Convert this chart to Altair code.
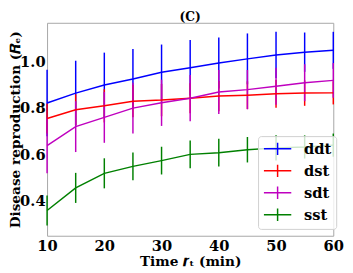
import altair as alt
import pandas as pd

times = [10, 15, 20, 25, 30, 35, 40, 45, 50, 55, 60]
series = ["ddt", "dst", "sdt", "sst"]
colors = ["#0000ff", "#ff0000", "#bf00bf", "#008000"]

ddt = [0.822, 0.865, 0.900, 0.926, 0.955, 0.975, 0.995, 1.013, 1.030, 1.042, 1.050]
ddt_err = [0.144, 0.14, 0.14, 0.13, 0.12, 0.12, 0.11, 0.11, 0.10, 0.085, 0.08]
dst = [0.755, 0.793, 0.810, 0.830, 0.835, 0.843, 0.852, 0.856, 0.862, 0.865, 0.866]
dst_err = [0.065, 0.067, 0.072, 0.07, 0.07, 0.065, 0.065, 0.06, 0.06, 0.055, 0.05]
sdt = [0.638, 0.720, 0.760, 0.800, 0.823, 0.843, 0.870, 0.880, 0.895, 0.910, 0.920]
sdt_err = [0.12, 0.11, 0.11, 0.11, 0.10, 0.10, 0.095, 0.085, 0.08, 0.08, 0.075]
sst = [0.357, 0.455, 0.518, 0.548, 0.573, 0.600, 0.607, 0.620, 0.628, 0.632, 0.640]
sst_err = [0.065, 0.065, 0.065, 0.06, 0.06, 0.06, 0.06, 0.055, 0.055, 0.05, 0.05]

x_ticks = [10, 20, 30, 40, 50, 60]
y_ticks = [0.4, 0.6, 0.8, 1.0]

rows = []
for name, vals, errs in zip(series, [ddt, dst, sdt, sst], [ddt_err, dst_err, sdt_err, sst_err]):
    for t, v, e in zip(times, vals, errs):
        rows.append({"t": t, "series": name, "y": v, "lo": v - e, "hi": v + e})
df = pd.DataFrame(rows)

FONT = "DejaVu Serif"
xsc = alt.Scale(domain=[10, 60], nice=False)
ysc = alt.Scale(domain=[0.248, 1.169], nice=False)

color = alt.Color(
    "series:N",
    scale=alt.Scale(domain=series, range=colors),
    legend=alt.Legend(
        title=None,
        orient="none",
        legendX=216,
        legendY=116,
        symbolType="M-1,0H3M1,-0.9V0.9",
        symbolSize=196,
        symbolStrokeWidth=1.5,
        labelFont=FONT,
        labelFontWeight="bold",
        labelFontSize=15,
        labelColor="black",
        labelOffset=26,
        rowPadding=2.5,
        padding=5,
        fillColor="rgba(255,255,255,0.8)",
        strokeColor="#d0d0d0",
        cornerRadius=3,
    ),
)

base = alt.Chart(df)
rules = base.mark_rule(strokeWidth=1.5).encode(
    x=alt.X("t:Q", scale=xsc,
            axis=alt.Axis(values=x_ticks, title="Time 𝒓ₜ (min)", titleY=30,
                          titleBaseline="alphabetic", labelFlush=False)),
    y=alt.Y("lo:Q", scale=ysc,
            axis=alt.Axis(values=y_ticks, format=".1f", title="Disease reproduction (𝑹ₑ)",
                          titleX=-28, titleBaseline="alphabetic", labelFlush=False,
                          labelPadding=2)),
    y2="hi:Q",
    color=color,
)
lines = base.mark_line(strokeWidth=1.5).encode(
    x="t:Q",
    y="y:Q",
    color=color,
)

chart = alt.layer(rules, lines).properties(
    width=293,
    height=218,
    autosize=alt.AutoSizeParams(type="none"),
    padding={"left": 40, "top": 12, "right": 12, "bottom": 36},
    title=alt.Title("(C)", font=FONT, fontWeight="bold", fontSize=12.5, color="black",
                    anchor="middle", offset=-1, frame="group"),
).configure_view(
    stroke="#a6a6a6", strokeWidth=1
).configure_axis(
    grid=False, ticks=False, domain=False,
    labelFont=FONT, labelFontWeight="bold", labelFontSize=15, labelColor="black",
    labelPadding=3,
    titleFont=FONT, titleFontWeight="bold", titleFontSize=14, titleColor="black",
)

chart.save("out.html", embed_options={"renderer": "svg", "actions": False})
